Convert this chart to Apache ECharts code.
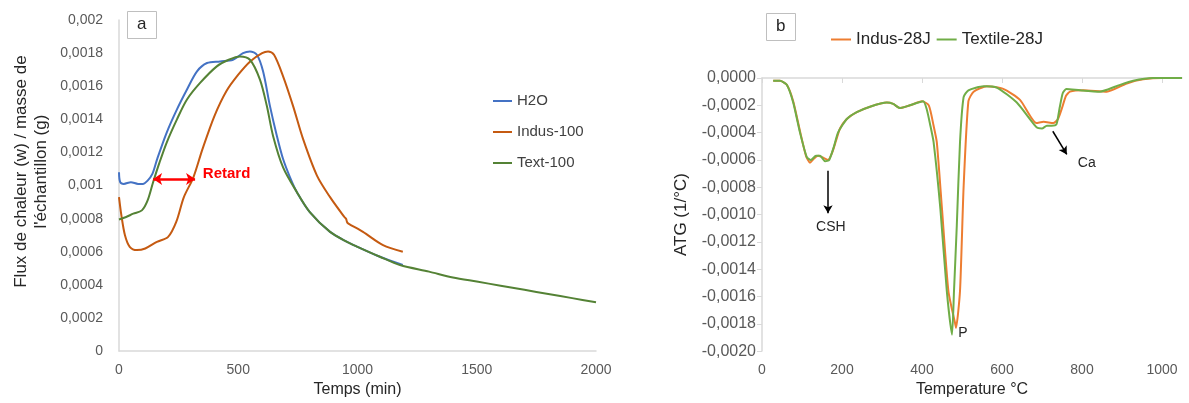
<!DOCTYPE html>
<html>
<head>
<meta charset="utf-8">
<title>Flux de chaleur / ATG</title>
<script src="https://cdn.jsdelivr.net/npm/echarts@6/dist/echarts.min.js"></script>
<style>
    html, body { margin: 0; padding: 0; background: #fff; }
    #main { width: 1189px; height: 403px; }
</style>
</head>
<body>
<div id="main"></div>
<script>
// ---- graphique a : flux de chaleur ----
var h2oTime = [0, 5, 20, 50, 80, 100, 120, 140, 160, 200, 243, 285, 327, 369, 424, 478, 520, 549, 578, 604, 633, 662, 688, 717, 746, 800, 885, 956, 1000, 1094, 1190];
var h2oFlux = [0.00108, 0.00102, 0.00101, 0.00102, 0.00101, 0.00101, 0.00103, 0.00107, 0.00116, 0.00132, 0.00146, 0.00158, 0.00169, 0.00174, 0.00175, 0.00176, 0.0018, 0.00181, 0.00179, 0.00169, 0.00148, 0.0013, 0.00116, 0.00105, 0.00096, 0.00084, 0.00072, 0.00066, 0.00063, 0.00057, 0.00052];

var indusTime = [0, 10, 25, 45, 75, 110, 159, 206, 240, 272, 312, 350, 400, 450, 500, 550, 600, 625, 650, 688, 730, 772, 830, 885, 945, 952, 956, 962, 1023, 1107, 1190];
var indusFlux = [0.00093, 0.00082, 0.0007, 0.00063, 0.00061, 0.00062, 0.00066, 0.00069, 0.00078, 0.00093, 0.00105, 0.00122, 0.00142, 0.00157, 0.00167, 0.00175, 0.0018, 0.00181, 0.00179, 0.00166, 0.00148, 0.00128, 0.00106, 0.00093, 0.00081, 0.0008, 0.00078, 0.00077, 0.00072, 0.00064, 0.0006];

var textTime = [0, 30, 60, 96, 120, 143, 170, 200, 243, 285, 340, 410, 460, 507, 549, 591, 620, 646, 688, 746, 800, 885, 956, 1000, 1094, 1178, 1300, 1400, 1500, 1600, 1700, 1800, 1900, 2000];
var textFlux = [0.000795, 0.00081, 0.00083, 0.00085, 0.00091, 0.00102, 0.00114, 0.00126, 0.0014, 0.00152, 0.00162, 0.00172, 0.00176, 0.00178, 0.00176, 0.00164, 0.00148, 0.0013, 0.00111, 0.00096, 0.00084, 0.00072, 0.00066, 0.00063, 0.00057, 0.00052, 0.00048, 0.000445, 0.00042, 0.000395, 0.00037, 0.000345, 0.00032, 0.000295];

// ---- graphique b : ATG ----
var indusTemp = [28, 45, 62, 78, 95, 110, 120, 130, 140, 150, 165, 175, 185, 195, 212, 237, 270, 312, 328, 345, 370, 400, 417, 429, 437, 450, 466, 483, 485, 495, 504, 516, 529, 562, 603, 645, 686, 704, 728, 740, 750, 760, 770, 803, 862, 912, 953, 1000, 1050];
var indusAtg = [-0.00002, -0.00002, -0.00005, -0.00017, -0.00039, -0.00057, -0.00062, -0.00059, -0.00057, -0.00058, -0.0006, -0.00055, -0.00046, -0.00037, -0.0003, -0.00025, -0.00021, -0.00018, -0.00019, -0.00022, -0.0002, -0.00017, -0.0002, -0.00035, -0.00047, -0.00096, -0.00156, -0.0018, -0.00183, -0.00156, -0.0008, -0.00017, -0.0001, -0.00006, -0.00008, -0.00016, -0.00033, -0.00032, -0.00033, -0.0003, -0.00022, -0.00013, -0.0001, -0.00009, -0.0001, -0.00004, -0.00001, 0, 0];

var textileTemp = [28, 45, 62, 78, 95, 112, 122, 135, 145, 158, 168, 180, 190, 212, 237, 270, 312, 328, 345, 370, 403, 412, 421, 429, 446, 462, 475, 480, 487, 495, 504, 516, 554, 587, 637, 686, 700, 712, 724, 736, 744, 752, 761, 795, 845, 886, 928, 978, 1050];
var textileAtg = [-0.00002, -0.00002, -0.00005, -0.00018, -0.0004, -0.00058, -0.0006, -0.00057, -0.00057, -0.00061, -0.0006, -0.0005, -0.0004, -0.0003, -0.00025, -0.00021, -0.00018, -0.00019, -0.00022, -0.0002, -0.00017, -0.00023, -0.00035, -0.00047, -0.00096, -0.00156, -0.00188, -0.00156, -0.00108, -0.00047, -0.00014, -0.00009, -0.00006, -0.00007, -0.00018, -0.00036, -0.00037, -0.00035, -0.00035, -0.00034, -0.00022, -0.00011, -0.00008, -0.00009, -0.0001, -0.00006, -0.00002, 0, 0];

function zip(xs, ys) {
    var out = [];
    for (var i = 0; i < xs.length; i++) out.push([xs[i], ys[i]]);
    return out;
}

var font = 'Liberation Sans, Arial, sans-serif';
var grey = '#595959';
var axisGrey = '#d9d9d9';

var myChart = echarts.init(document.getElementById('main'));

var option = {
    animation: false,
    textStyle: { fontFamily: font },
    title: [
        {
            text: 'a', left: 127, top: 11, padding: [5, 10, 6, 10],
            borderColor: '#bfbfbf', borderWidth: 1,
            textStyle: { fontSize: 17, fontWeight: 'normal', color: '#262626', fontFamily: font }
        },
        {
            text: 'b', left: 766, top: 13, padding: [5, 10, 6, 10],
            borderColor: '#bfbfbf', borderWidth: 1,
            textStyle: { fontSize: 17, fontWeight: 'normal', color: '#262626', fontFamily: font }
        }
    ],
    legend: [
        {
            data: ['H2O', 'Indus-100', 'Text-100'],
            orient: 'vertical', left: 488, top: 88,
            icon: 'rect', itemWidth: 19, itemHeight: 2, itemGap: 15,
            textStyle: { fontSize: 15, color: '#404040', lineHeight: 16, fontFamily: font }
        },
        {
            data: ['Indus-28J', 'Textile-28J'],
            left: 826, top: 26,
            icon: 'rect', itemWidth: 20, itemHeight: 2, itemGap: 6,
            textStyle: { fontSize: 17, color: '#262626', fontFamily: font }
        }
    ],
    grid: [
        { left: 119, top: 20, width: 477, height: 332 },
        { left: 762, top: 78, width: 420, height: 276 }
    ],
    xAxis: [
        {
            gridIndex: 0, type: 'value', min: 0, max: 2000, interval: 500,
            name: 'Temps (min)', nameLocation: 'middle', nameGap: 27,
            nameTextStyle: { fontSize: 16, color: '#262626' },
            axisLine: { lineStyle: { color: axisGrey, width: 1.5 } },
            axisTick: { show: false },
            axisLabel: { fontSize: 14, color: grey, margin: 12, formatter: function (v) { return String(v); } },
            splitLine: { show: false }
        },
        {
            gridIndex: 1, type: 'value', min: 0, max: 1050, interval: 200,
            name: 'Temperature °C', nameLocation: 'middle', nameGap: 29,
            nameTextStyle: { fontSize: 16, color: '#262626' },
            axisLine: { lineStyle: { color: axisGrey, width: 1.5 } },
            axisTick: { show: true, length: 5, lineStyle: { color: axisGrey } },
            axisLabel: { fontSize: 14, color: grey, margin: 12, showMaxLabel: false, formatter: function (v) { return String(v); } },
            splitLine: { show: false }
        }
    ],
    yAxis: [
        {
            gridIndex: 0, type: 'value', min: 0, max: 0.002, interval: 0.0002,
            name: "Flux de chaleur (w) / masse de\nl'échantillon (g)",
            nameLocation: 'middle', nameGap: 68,
            nameTextStyle: { fontSize: 17, color: '#262626', lineHeight: 20, padding: [0, 0, 0, 28] },
            axisLine: { show: true, lineStyle: { color: axisGrey, width: 1.5 } },
            axisTick: { show: false },
            axisLabel: {
                fontSize: 14, color: grey, margin: 16,
                formatter: function (v) {
                    return v === 0 ? '0' : String(+v.toFixed(4)).replace('.', ',');
                }
            },
            splitLine: { show: false }
        },
        {
            gridIndex: 1, type: 'value', min: -0.002, max: 0, interval: 0.0002,
            name: 'ATG (1/°C)', nameLocation: 'middle', nameGap: 72,
            nameTextStyle: { fontSize: 17, color: '#262626' },
            axisLine: { show: true, lineStyle: { color: axisGrey, width: 1.5 } },
            axisTick: { show: true, length: 5, lineStyle: { color: axisGrey } },
            axisLabel: {
                fontSize: 16, color: grey, margin: 6,
                formatter: function (v) {
                    return v.toFixed(4).replace('.', ',');
                }
            },
            splitLine: { show: false }
        }
    ],
    series: [
        {
            name: 'H2O', type: 'line', xAxisIndex: 0, yAxisIndex: 0,
            data: zip(h2oTime, h2oFlux), showSymbol: false, symbol: 'none', smooth: 0.3,
            itemStyle: { color: '#4472C4' }, lineStyle: { color: '#4472C4', width: 2 }
        },
        {
            name: 'Indus-100', type: 'line', xAxisIndex: 0, yAxisIndex: 0,
            data: zip(indusTime, indusFlux), showSymbol: false, symbol: 'none', smooth: 0.3,
            itemStyle: { color: '#C55A11' }, lineStyle: { color: '#C55A11', width: 2 }
        },
        {
            name: 'Text-100', type: 'line', xAxisIndex: 0, yAxisIndex: 0,
            data: zip(textTime, textFlux), showSymbol: false, symbol: 'none', smooth: 0.3,
            itemStyle: { color: '#548235' }, lineStyle: { color: '#548235', width: 2 },
            // fleche "Retard"
            markLine: {
                silent: true, symbol: ['arrow', 'arrow'], symbolSize: [9, 9],
                lineStyle: { color: '#ff0000', width: 2.5, type: 'solid' },
                label: { show: false },
                data: [[{ coord: [143, 0.00104] }, { coord: [319, 0.00104] }]]
            },
            markPoint: {
                silent: true, symbol: 'circle', symbolSize: 1,
                itemStyle: { color: 'rgba(0,0,0,0)' },
                label: { show: true, position: 'inside', color: '#ff0000', fontWeight: 'bold', fontSize: 15 },
                data: [{ coord: [451, 0.00107], value: 'Retard' }]
            }
        },
        {
            name: 'Indus-28J', type: 'line', xAxisIndex: 1, yAxisIndex: 1,
            data: zip(indusTemp, indusAtg), showSymbol: false, symbol: 'none', smooth: 0.2,
            itemStyle: { color: '#ED7D31' }, lineStyle: { color: '#ED7D31', width: 2 }
        },
        {
            name: 'Textile-28J', type: 'line', xAxisIndex: 1, yAxisIndex: 1,
            data: zip(textileTemp, textileAtg), showSymbol: false, symbol: 'none', smooth: 0.2,
            itemStyle: { color: '#70AD47' }, lineStyle: { color: '#70AD47', width: 2 },
            // fleches CSH et Ca
            markLine: {
                silent: true, symbol: ['none', 'arrow'], symbolSize: [7, 8],
                lineStyle: { color: '#000', width: 1.5, type: 'solid' },
                label: { show: false },
                data: [
                    [{ coord: [165, -0.00068] }, { coord: [165, -0.00099] }],
                    [{ coord: [727, -0.00039] }, { coord: [762, -0.00056] }]
                ]
            },
            markPoint: {
                silent: true, symbol: 'circle', symbolSize: 1,
                itemStyle: { color: 'rgba(0,0,0,0)' },
                label: { show: true, position: 'inside', color: '#262626', fontSize: 14 },
                data: [
                    { coord: [172, -0.00109], value: 'CSH' },
                    { coord: [812, -0.00062], value: 'Ca' },
                    { coord: [502, -0.00187], value: 'P' }
                ]
            }
        }
    ]
};

myChart.setOption(option);
window.onresize = function () {
    myChart.resize();
};
</script>
</body>
</html>
